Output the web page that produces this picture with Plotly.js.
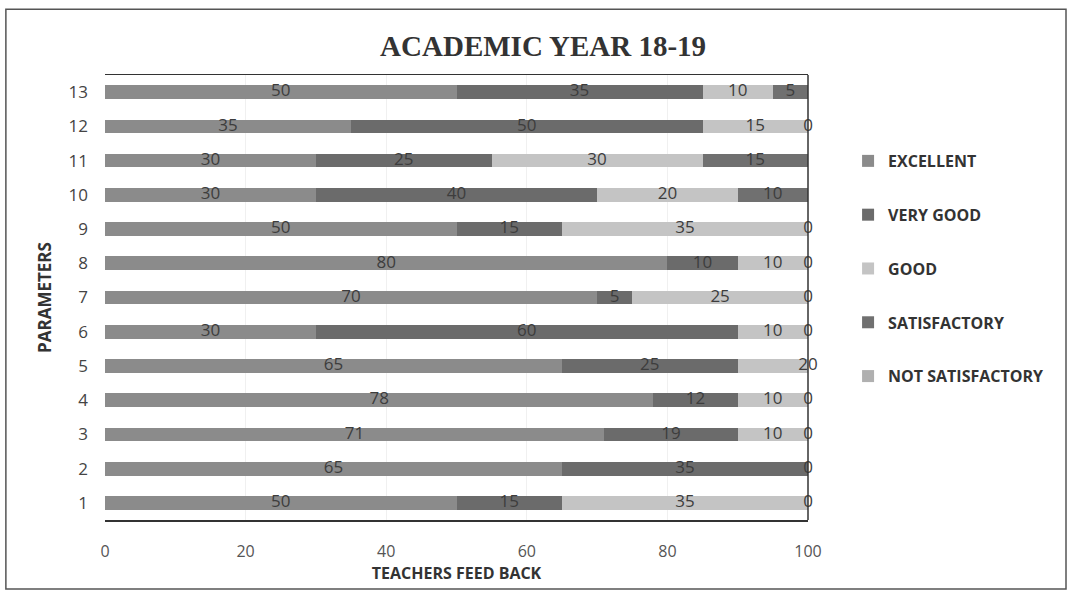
<!DOCTYPE html>
<html>
<head>
<meta charset="utf-8">
<script src="https://cdn.plot.ly/plotly-3.0.1.min.js"></script>
<style>
  html, body { margin: 0; padding: 0; background: #ffffff; }
  #chart { width: 1067px; height: 591px; }
</style>
</head>
<body>
<div id="chart"></div>
<script>
// Parameters 1..13 (bottom to top)
const parameters = [1, 2, 3, 4, 5, 6, 7, 8, 9, 10, 11, 12, 13];
const seriesNames = ["EXCELLENT", "VERY GOOD", "GOOD", "SATISFACTORY", "NOT SATISFACTORY"];
const excellent       = [50, 65, 71, 78, 65, 30, 70, 80, 50, 30, 30, 35, 50];
const veryGood        = [15, 35, 19, 12, 25, 60,  5, 10, 15, 40, 25, 50, 35];
const good            = [35, null, 10, 10, 20, 10, 25, 10, 35, 20, 30, 15, 10];
const satisfactory    = [null, null, null, null, null, null, null, null, null, 10, 15, null, 5];
const notSatisfactory = [0, 0, 0, 0, null, 0, 0, 0, 0, null, null, 0, null];
const xTicks = [0, 20, 40, 60, 80, 100];

const allSeries = [excellent, veryGood, good, satisfactory, notSatisfactory];
const colors = ["#8b8b8b", "#6b6b6b", "#c4c4c4", "#707070", "#b0b0b0"];

const traces = [];
allSeries.forEach((vals, i) => {
  traces.push({
    type: "bar",
    orientation: "h",
    name: seriesNames[i],
    y: parameters,
    x: vals,
    marker: { color: colors[i], line: { width: 0 } },
    textposition: "none",
    legendgroup: "g" + i,
    hoverinfo: "x+name"
  });
});

// data labels at segment centres (clipped to the axis maximum, like the source)
const lx = [], ly = [], lt = [];
parameters.forEach((p, r) => {
  let base = 0;
  allSeries.forEach(vals => {
    const v = vals[r];
    if (v === null || v === undefined) return;
    const c = Math.min(base + v / 2, 100);
    lx.push(c); ly.push(p); lt.push(String(v));
    base += v;
  });
});
traces.push({
  type: "scatter",
  mode: "text",
  x: lx, y: ly, text: lt,
  textposition: "middle center",
  textfont: { family: "Open Sans, sans-serif", size: 17, color: "#3d3d3d" },
  showlegend: false,
  hoverinfo: "skip",
  cliponaxis: false
});

const layout = {
  width: 1067,
  height: 591,
  paper_bgcolor: "#ffffff",
  plot_bgcolor: "#ffffff",
  margin: { l: 105, r: 259, t: 75, b: 71 },
  barmode: "stack",
  bargap: 0.6,
  title: {
    text: "<b>ACADEMIC YEAR 18-19</b>",
    font: { family: "Liberation Serif, serif", size: 29, color: "#333333" },
    x: 0.509, xanchor: "center", xref: "container",
    y: 0.922, yanchor: "middle", yref: "container"
  },
  xaxis: {
    range: [0, 100],
    tickvals: xTicks,
    ticktext: xTicks.map(String),
    tickfont: { family: "Open Sans, sans-serif", size: 16, color: "#555555" },
    showgrid: true,
    gridcolor: "#f0f0f0",
    zeroline: false,
    showline: true,
    linecolor: "#333333",
    linewidth: 1.5,
    mirror: true,
    ticks: "",
    ticklabelstandoff: 16,
    title: {
      text: "<b>TEACHERS FEED BACK</b>",
      font: { family: "Open Sans, sans-serif", size: 16, color: "#333333" },
      standoff: 5
    }
  },
  yaxis: {
    range: [0.5, 13.5],
    tickvals: parameters,
    ticktext: parameters.map(String),
    tickfont: { family: "Open Sans, sans-serif", size: 17, color: "#444444" },
    showgrid: false,
    zeroline: false,
    showline: false,
    ticks: "",
    ticklabelstandoff: 16,
    title: {
      text: "<b>PARAMETERS</b>",
      font: { family: "Open Sans, sans-serif", size: 17, color: "#333333" },
      standoff: 12
    }
  },
  legend: {
    x: 1.057, xanchor: "left",
    y: 0.845, yanchor: "top",
    traceorder: "grouped",
    tracegroupgap: 30,
    font: { family: "Open Sans, sans-serif", size: 16, color: "#333333", weight: "bold" },
    itemwidth: 30,
    bgcolor: "rgba(0,0,0,0)"
  },
  shapes: [
    {
      type: "line", xref: "paper", yref: "paper",
      x0: 1, x1: 1, y0: 0, y1: 1,
      line: { color: "#333333", width: 1.5 }
    },
    {
      type: "rect", xref: "paper", yref: "paper",
      x0: -0.141, x1: 1.367, y0: -0.155, y1: 1.148,
      line: { color: "#555555", width: 1.5 }, fillcolor: "rgba(0,0,0,0)"
    }
  ]
};

Plotly.newPlot("chart", traces, layout, { displayModeBar: false, staticPlot: true });
</script>
</body>
</html>
